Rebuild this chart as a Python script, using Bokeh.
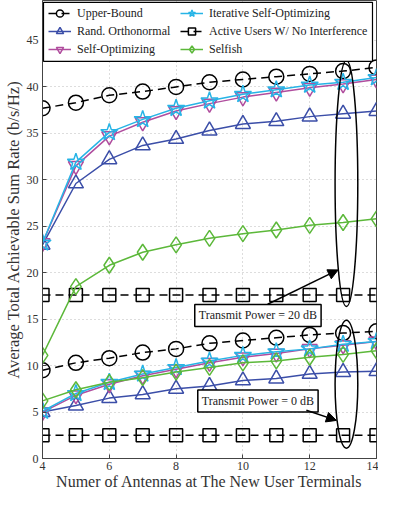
from bokeh.plotting import figure
from bokeh.models import (Range1d, Legend, LegendItem, Label, Arrow, NormalHead,
                          FixedTicker, BoxAnnotation)
from bokeh.embed import file_html
from bokeh.resources import INLINE

antennas = [4, 5, 6, 7, 8, 9, 10, 11, 12, 13, 14]

# Transmit power = 20 dB
upper_20 = [37.7, 38.3, 39.1, 39.5, 40.0, 40.5, 40.8, 41.1, 41.4, 41.7, 42.1]
rand_20 = [23.0, 29.6, 32.2, 33.7, 34.4, 35.3, 36.0, 36.3, 36.8, 37.1, 37.4]
selfopt_20 = [23.2, 31.5, 34.7, 36.2, 37.4, 38.2, 38.9, 39.4, 39.9, 40.3, 40.8]
iter_20 = [23.2, 31.9, 35.1, 36.5, 37.7, 38.5, 39.2, 39.7, 40.2, 40.5, 41.0]
active_20 = [17.6] * 11
selfish_20 = [11.1, 18.5, 20.8, 22.2, 23.0, 23.7, 24.2, 24.6, 25.1, 25.4, 25.8]

# Transmit power = 0 dB
upper_0 = [9.5, 10.3, 10.8, 11.4, 11.8, 12.4, 12.7, 13.0, 13.3, 13.5, 13.7]
rand_0 = [5.0, 5.7, 6.5, 6.9, 7.5, 7.8, 8.4, 8.6, 9.1, 9.3, 9.4]
selfopt_0 = [5.0, 6.8, 8.0, 8.9, 9.6, 10.3, 10.9, 11.3, 11.8, 12.2, 12.6]
iter_0 = [5.1, 7.0, 8.2, 9.1, 9.8, 10.5, 11.1, 11.5, 11.8, 12.3, 12.6]
active_0 = [2.5] * 11
selfish_0 = [6.2, 7.4, 8.2, 8.7, 9.3, 9.8, 10.3, 10.5, 10.9, 11.2, 11.6]

x_ticks = [4, 6, 8, 10, 12, 14]
y_ticks = [0, 5, 10, 15, 20, 25, 30, 35, 40, 45]

FONT = "Liberation Serif"

p = figure(width=378, height=494, output_backend="svg", toolbar_location=None,
           x_range=Range1d(4, 14), y_range=Range1d(0, 49.3),
           min_border_left=36, min_border_right=2, min_border_top=0, min_border_bottom=36)

p.outline_line_color = "#444444"
p.outline_line_width = 1
p.xgrid.grid_line_color = "#bbbbbb"
p.ygrid.grid_line_color = "#bbbbbb"
p.xgrid.grid_line_dash = "1 3"
p.ygrid.grid_line_dash = "1 3"
p.xaxis.ticker = FixedTicker(ticks=x_ticks)
p.yaxis.ticker = FixedTicker(ticks=y_ticks)
for ax in (p.xaxis[0], p.yaxis[0]):
    ax.major_tick_in = 4
    ax.major_tick_out = 0
    ax.minor_tick_line_color = None
    ax.axis_line_color = "#444444"
    ax.major_tick_line_color = "#444444"
    ax.major_label_text_font = FONT
    ax.major_label_text_font_size = "12px"
    ax.major_label_text_color = "#333333"
    ax.axis_label_text_font = FONT
    ax.axis_label_text_font_style = "normal"
    ax.axis_label_text_color = "#333333"
p.xaxis.axis_label_text_font_size = "16px"
p.yaxis.axis_label_text_font_size = "16.5px"
p.xaxis.major_label_standoff = 3
p.yaxis.major_label_standoff = 4
p.xaxis.axis_label = "Numer of Antennas at The New User Terminals"
p.yaxis.axis_label = "Average Total Achievable Sum Rate (b/s/Hz)"
p.xaxis.axis_label_standoff = 0
p.yaxis.axis_label_standoff = 1

series = [
    ("Upper-Bound", upper_20, upper_0, "black", "circle", "8 5", 15),
    ("Rand. Orthonormal", rand_20, rand_0, "#3b4ea8", "triangle", "solid", 15),
    ("Self-Optimizing", selfopt_20, selfopt_0, "#b04d9e", "inverted_triangle", "solid", 15),
    ("Iterative Self-Optimizing", iter_20, iter_0, "#27b4e6", "star", "solid", 18),
    ("Active Users W/ No Interference", active_20, active_0, "black", "square", "8 5", 13),
    ("Selfish", selfish_20, selfish_0, "#5cb83a", "diamond", "solid", 16),
]

items = []
for name, y20, y0, color, marker, dash, size in series:
    rends = []
    for ys in (y20, y0):
        l = p.line(antennas, ys, line_color=color, line_width=1.5, line_dash=dash)
        s = p.scatter(antennas, ys, marker=marker, size=size, fill_color=None,
                      line_color=color, line_width=1.5)
        rends.append((l, s))
    items.append(LegendItem(label=name, renderers=list(rends[0])))

# legend frame (white box with black border)
p.add_layout(BoxAnnotation(left=4.03, right=13.88, top=49.1, bottom=42.75,
                           fill_color="white", fill_alpha=1.0,
                           line_color="black", line_width=1.2, line_alpha=1.0))

common = dict(label_text_font=FONT, label_text_font_size="12px",
              label_text_color="#222222", border_line_color=None,
              background_fill_alpha=0.0, glyph_width=23, glyph_height=18,
              label_standoff=6, spacing=0, padding=0, margin=0, label_height=18)
frame_h = 494 - 0 - 36
leg_h = 3 * 18
p.add_layout(Legend(items=items[:3], location=(6, frame_h - 4 - leg_h), **common))
p.add_layout(Legend(items=items[3:], location=(138, frame_h - 4 - leg_h), **common))

# ellipses around x=13
p.ellipse(x=[13.1, 13.1], y=[29.6, 8.0], width=[0.68, 0.68], height=[26.5, 13.8],
          fill_color=None, line_color="black", line_width=1.5)

for txt, xx, yy in (("Transmit Power = 20 dB", 10.45, 15.4), ("Transmit Power = 0 dB", 10.45, 6.2)):
    p.add_layout(Label(x=xx, y=yy, text=txt, text_align="center", text_baseline="middle",
                       text_font=FONT, text_font_size="12px", text_color="#222222",
                       border_line_color="black", border_line_width=1.5,
                       background_fill_color="white", padding=4))

p.add_layout(Arrow(x_start=10.74, y_start=16.6, x_end=12.85, y_end=20.3,
                   line_color="black", line_width=1.5,
                   end=NormalHead(size=10, fill_color="black", line_color="black")))
p.add_layout(Arrow(x_start=11.9, y_start=5.2, x_end=12.8, y_end=4.1,
                   line_color="black", line_width=1.5,
                   end=NormalHead(size=10, fill_color="black", line_color="black")))

open("out.html", "w").write(file_html(p, INLINE))
